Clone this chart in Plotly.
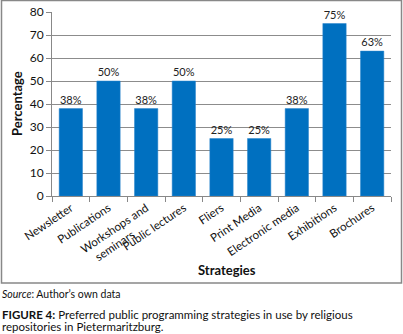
import plotly.graph_objects as go

categories = ["Newsletter", "Publications", "Workshops and seminars", "Public lectures",
              "Fliers", "Print Media", "Electronic media", "Exhibitions", "Brochures"]
tick_labels = ["Newsletter", "Publications", "Workshops and", "Public lectures",
               "Fliers", "Print Media", "Electronic media", "Exhibitions", "Brochures"]
tick_label_second_line = "seminars"
values = [38, 50, 38, 50, 25, 25, 38, 75, 63]
y_ticks = [0, 10, 20, 30, 40, 50, 60, 70, 80]

FONT = "Lato"
W, H = 403, 334
L, R, T, B = 52, 12, 12, 138
pw = W - L - R
ph = H - T - B

def px(x):
    return (x - L) / pw

def py(y):
    return (H - B - y) / ph

fig = go.Figure()
fig.add_trace(go.Bar(
    x=categories, y=values,
    marker=dict(color="#0070C0", line=dict(color="#2a85cc", width=0.5)),
    text=[f"{v}%" for v in values],
    textposition="outside",
    textfont=dict(family=FONT, size=11, color="#222"),
    cliponaxis=False,
    hoverinfo="skip",
))

fig.update_layout(
    width=W, height=H,
    margin=dict(l=L, r=R, t=T, b=B, autoexpand=False),
    paper_bgcolor="white", plot_bgcolor="white",
    bargap=0.38,
    showlegend=False,
    font=dict(family=FONT, color="#111"),
    xaxis=dict(
        tickmode="array", tickvals=categories, ticktext=tick_labels,
        tickangle=-34, tickfont=dict(size=11.5, family=FONT, color="#111"),
        showline=True, linecolor="#888", linewidth=1,
        ticks="outside", tickson="boundaries", ticklen=5, tickcolor="#888",
        showgrid=False, automargin=False,
    ),
    yaxis=dict(
        range=[0, 80], tickvals=y_ticks, tickfont=dict(size=12, family=FONT, color="#111"),
        showline=True, linecolor="#888", linewidth=1,
        ticks="outside", ticklen=5, tickcolor="#888",
        showgrid=True, gridcolor="#8c8c8c", gridwidth=1, zeroline=False,
        automargin=False,
    ),
)

# second line of the "Workshops and seminars" tick label
fig.add_annotation(text=tick_label_second_line, xref="x", yref="paper",
                   x=categories[2], y=py(245), xshift=-32, textangle=-34,
                   showarrow=False, font=dict(size=11.5, family=FONT, color="#111"),
                   xanchor="center", yanchor="middle")

fig.add_annotation(text="<b>Percentage</b>", xref="paper", yref="paper",
                   x=px(17), y=0.5, textangle=-90, showarrow=False,
                   font=dict(size=13, family=FONT, color="#111"),
                   xanchor="center", yanchor="middle")
fig.add_annotation(text="<b>Strategies</b>", xref="paper", yref="paper",
                   x=px(227), y=py(270), showarrow=False,
                   font=dict(size=13, family=FONT, color="#111"),
                   xanchor="center", yanchor="middle")
fig.add_annotation(text="<i>Source</i>: Author’s own data", xref="paper", yref="paper",
                   x=px(0), y=py(294), showarrow=False, align="left",
                   font=dict(size=10.5, family=FONT, color="#111"),
                   xanchor="left", yanchor="middle")
fig.add_annotation(text="<b>FIGURE 4:</b> Preferred public programming strategies in use by religious",
                   xref="paper", yref="paper",
                   x=px(0), y=py(314.5), showarrow=False, align="left",
                   font=dict(size=11.5, family=FONT, color="#111"),
                   xanchor="left", yanchor="middle")
fig.add_annotation(text="repositories in Pietermaritzburg.",
                   xref="paper", yref="paper",
                   x=px(0), y=py(326.5), showarrow=False, align="left",
                   font=dict(size=11.5, family=FONT, color="#111"),
                   xanchor="left", yanchor="middle")

fig.add_shape(type="rect", xref="paper", yref="paper",
              x0=px(1.5), x1=px(401.5), y0=py(283), y1=py(0.5),
              line=dict(color="#888", width=1.5), fillcolor="rgba(0,0,0,0)", layer="below")

fig.write_html("out.html", config={"displayModeBar": False},
               post_script="document.body.style.margin='0';document.body.style.padding='0';")
